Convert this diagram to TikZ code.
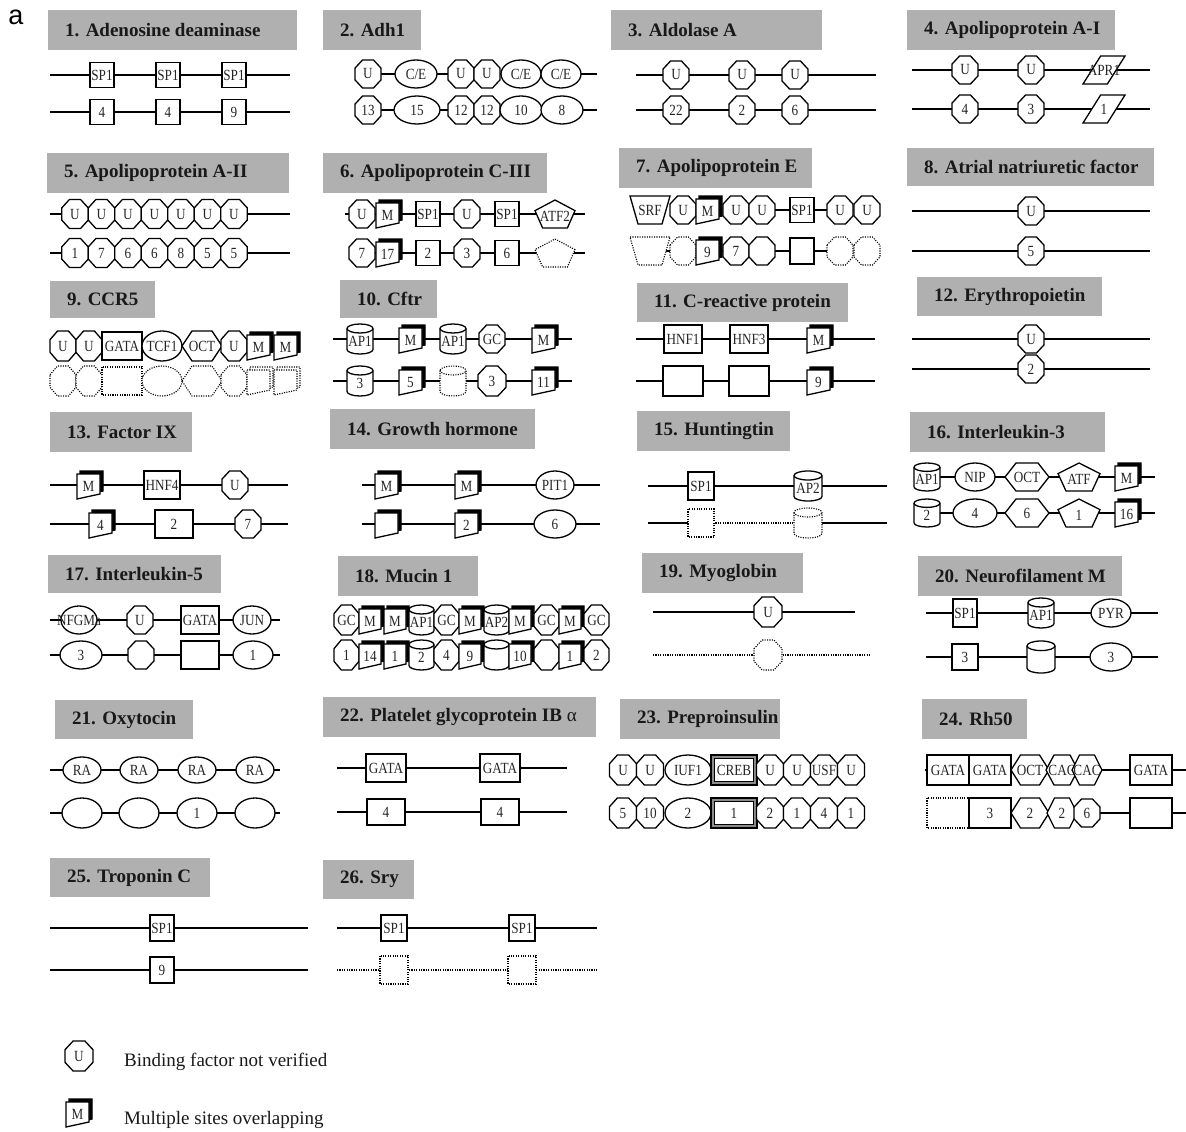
\documentclass[tikz,border=0pt]{standalone}
\usepackage{fontspec}
\setmainfont{Liberation Serif}
\newfontfamily\sansf{Liberation Sans}
\definecolor{titlegray}{RGB}{176,176,176}
\tikzset{
  shp/.style={draw=black, fill=white, line width=1.3, line join=miter},
  dna/.style={line width=1.4, draw=black},
  dot/.style={dash pattern=on 1.1pt off 1.3pt, line width=1.1},
  lbl/.style={inner sep=0, font=\fontsize{15.5}{15.5}\selectfont, text=black!85},
  ttl/.style={inner sep=0, anchor=west, font=\fontsize{19}{19}\selectfont\bfseries, text=black!90},
  legtext/.style={inner sep=0, anchor=west, font=\fontsize{19}{19}\selectfont, text=black!90}
}
\newcommand\lbltext[1]{\scalebox{0.85}[1]{#1}}
% octagon: [style]{name}{x}{y}{w}{h}{label}
\newcommand\sOct[7][]{%
  \pgfmathsetmacro\shW{#5/2}\pgfmathsetmacro\shH{#6/2}%
  \pgfmathsetmacro\shX{0.29*#5}\pgfmathsetmacro\shY{0.29*#6}%
  \begin{scope}[shift={(#3,#4)}]
    \draw[shp,#1] (-\shW,-\shH+\shY) -- (-\shW+\shX,-\shH) -- (\shW-\shX,-\shH) -- (\shW,-\shH+\shY)
      -- (\shW,\shH-\shY) -- (\shW-\shX,\shH) -- (-\shW+\shX,\shH) -- (-\shW,\shH-\shY) -- cycle;
  \end{scope}
  \node[lbl] (#2) at (#3,#4) {\lbltext{#7}};}
\newcommand\sRect[7][]{%
  \pgfmathsetmacro\shW{#5/2}\pgfmathsetmacro\shH{#6/2}%
  \draw[shp,#1] ({#3-\shW},{#4-\shH}) rectangle ({#3+\shW},{#4+\shH});
  \node[lbl] (#2) at (#3,#4) {\lbltext{#7}};}
\newcommand\sEll[7][]{%
  \pgfmathsetmacro\shW{#5/2}\pgfmathsetmacro\shH{#6/2}%
  \draw[shp,#1] (#3,#4) ellipse [x radius=\shW, y radius=\shH];
  \node[lbl] (#2) at (#3,#4) {\lbltext{#7}};}
\newcommand\sHex[7][]{%
  \pgfmathsetmacro\shW{#5/2}\pgfmathsetmacro\shH{#6/2}\pgfmathsetmacro\shX{0.25*#5}%
  \begin{scope}[shift={(#3,#4)}]
    \draw[shp,#1] (-\shW,0) -- (-\shW+\shX,-\shH) -- (\shW-\shX,-\shH) -- (\shW,0)
      -- (\shW-\shX,\shH) -- (-\shW+\shX,\shH) -- cycle;
  \end{scope}
  \node[lbl] (#2) at (#3,#4) {\lbltext{#7}};}
\newcommand\sPent[7][]{%
  \pgfmathsetmacro\shW{#5/2}\pgfmathsetmacro\shH{#6/2}%
  \pgfmathsetmacro\shX{0.31*#5}\pgfmathsetmacro\shY{0.38*#6}%
  \begin{scope}[shift={(#3,#4)}]
    \draw[shp,#1] (0,-\shH) -- (\shW,-\shH+\shY) -- (\shX,\shH) -- (-\shX,\shH) -- (-\shW,-\shH+\shY) -- cycle;
  \end{scope}
  \node[lbl] (#2) at (#3,{#4+2}) {\lbltext{#7}};}
\newcommand\sTrap[7][]{%
  \pgfmathsetmacro\shW{#5/2}\pgfmathsetmacro\shH{#6/2}\pgfmathsetmacro\shX{0.3*#5}%
  \begin{scope}[shift={(#3,#4)}]
    \draw[shp,#1] (-\shW,-\shH) -- (\shW,-\shH) -- (\shX,\shH) -- (-\shX,\shH) -- cycle;
  \end{scope}
  \node[lbl] (#2) at (#3,#4) {\lbltext{#7}};}
\newcommand\sPar[7][]{%
  \pgfmathsetmacro\shW{#5/2}\pgfmathsetmacro\shH{#6/2}\pgfmathsetmacro\shX{0.42*#5}%
  \begin{scope}[shift={(#3,#4)}]
    \draw[shp,#1] (-\shW+\shX,-\shH) -- (\shW,-\shH) -- (\shW-\shX,\shH) -- (-\shW,\shH) -- cycle;
  \end{scope}
  \node[lbl] (#2) at (#3,#4) {\lbltext{#7}};}
\newcommand\sCyl[7][]{%
  \pgfmathsetmacro\shW{#5/2}\pgfmathsetmacro\shH{#6/2}\pgfmathsetmacro\shY{0.15*#6}%
  \begin{scope}[shift={(#3,#4)}]
    \draw[shp,#1] (-\shW,-\shH+\shY) -- (-\shW,\shH-\shY)
      arc[start angle=180, end angle=0, x radius=\shW, y radius=\shY]
      -- (\shW,-\shH+\shY) arc[start angle=0, end angle=-180, x radius=\shW, y radius=\shY] -- cycle;
    \draw[shp,fill=none,#1] (-\shW,-\shH+\shY) arc[start angle=180, end angle=0, x radius=\shW, y radius=\shY];
  \end{scope}
  \node[lbl] (#2) at (#3,{#4+2}) {\lbltext{#7}};}
\newcommand\sMul[7][]{%
  \pgfmathsetmacro\shW{#5/2}\pgfmathsetmacro\shH{#6/2}%
  \begin{scope}[shift={(#3,#4)}]
    \draw[shp,fill=black,#1] (-\shW+3,-\shH) -- (\shW,-\shH) -- (\shW,\shH-8) -- (-\shW+3,\shH-3) -- cycle;
    \draw[shp,#1] (-\shW,-\shH+3) -- (\shW-3,-\shH+3) -- (\shW-3,\shH-5) -- (-\shW,\shH) -- cycle;
  \end{scope}
  \node[lbl] (#2) at ({#3-1.5},{#4+1.5}) {\lbltext{#7}};}
\newcommand\sCreb[7][]{%
  \pgfmathsetmacro\shW{#5/2}\pgfmathsetmacro\shH{#6/2}%
  \begin{scope}[shift={(#3,#4)}]
    \draw[shp,#1] (-\shW,-\shH) rectangle (\shW,\shH);
    \draw[line width=2.2,draw=black!45] (-\shW+2.2,-\shH+2.2) rectangle (\shW-2.2,\shH-2.2);
    \draw[line width=1] (-\shW+3.8,-\shH+3.8) rectangle (\shW-3.8,\shH-3.8);
  \end{scope}
  \node[lbl] (#2) at (#3,#4) {\lbltext{#7}};}
% DNA line: [style]{name}{x1}{x2}{y}
\newcommand\gLine[5][]{%
  \coordinate (#2s) at (#3,#5); \coordinate (#2e) at (#4,#5);
  \draw[dna,#1] (#2s) -- (#2e);}
% title: {name}{x1}{y1}{x2}{y2}{text}
\newcommand\gTitle[6]{%
  \fill[titlegray] (#2,#3) rectangle (#4,#5);
  \node[ttl] (#1) at ({#2+17},{(#3+#5)/2}) {#6};}
\begin{document}
\begin{tikzpicture}[x=1pt,y=-1pt]
\useasboundingbox (0,0) rectangle (1186,1132);
\fill[white] (0,0) rectangle (1186,1132);
\node[font=\sansf\fontsize{27}{27}\selectfont, inner sep=0] (lbla) at (16,17) {a};

% ---------- 1 ----------
\gTitle{t1}{48}{10}{297}{50}{1. Adenosine deaminase}
\gLine{l1a}{50}{290}{75}
\sRect{n1a1}{102}{75}{24}{25}{SP1}
\sRect{n1a2}{168}{75}{24}{25}{SP1}
\sRect{n1a3}{234}{75}{24}{25}{SP1}
\gLine{l1b}{50}{290}{112}
\sRect{n1b1}{102}{112}{24}{25}{4}
\sRect{n1b2}{168}{112}{24}{25}{4}
\sRect{n1b3}{234}{112}{24}{25}{9}

% ---------- 2 ----------
\gTitle{t2}{323}{10}{421}{50}{2. Adh1}
\gLine{l2a}{366}{597}{74}
\sOct{n2a1}{368}{74}{26}{28}{U}
\sEll{n2a2}{416}{74}{42}{28}{C/E}
\sOct{n2a3}{461}{74}{26}{28}{U}
\sOct{n2a4}{487}{74}{26}{28}{U}
\sEll{n2a5}{521}{74}{40}{28}{C/E}
\sEll{n2a6}{561}{74}{40}{28}{C/E}
\gLine{l2b}{366}{597}{110}
\sOct{n2b1}{368}{110}{26}{28}{13}
\sEll{n2b2}{417}{110}{46}{28}{15}
\sOct{n2b3}{461}{110}{26}{28}{12}
\sOct{n2b4}{487}{110}{26}{28}{12}
\sEll{n2b5}{521}{110}{42}{28}{10}
\sEll{n2b6}{562}{110}{42}{28}{8}

% ---------- 3 ----------
\gTitle{t3}{611}{10}{822}{50}{3. Aldolase A}
\gLine{l3a}{636}{876}{75}
\sOct{n3a1}{676}{75}{26}{28}{U}
\sOct{n3a2}{742}{75}{26}{28}{U}
\sOct{n3a3}{795}{75}{26}{28}{U}
\gLine{l3b}{636}{876}{110}
\sOct{n3b1}{676}{110}{26}{28}{22}
\sOct{n3b2}{742}{110}{26}{28}{2}
\sOct{n3b3}{795}{110}{26}{28}{6}

% ---------- 4 ----------
\gTitle{t4}{907}{10}{1115}{50}{4. Apolipoprotein A-I}
\gLine{l4a}{912}{1150}{70}
\sOct{n4a1}{965}{70}{26}{28}{U}
\sOct{n4a2}{1031}{70}{26}{28}{U}
\sPar{n4a3}{1104}{70}{42}{28}{APR1}
\gLine{l4b}{912}{1150}{109}
\sOct{n4b1}{965}{109}{26}{28}{4}
\sOct{n4b2}{1031}{109}{26}{28}{3}
\sPar{n4b3}{1104}{109}{42}{28}{1}

% ---------- 5 ----------
\gTitle{t5}{47}{153}{289}{193}{5. Apolipoprotein A-II}
\gLine{l5a}{50}{290}{214}
\sOct{n5a1}{75}{214}{26.5}{29}{U}
\sOct{n5a2}{101.5}{214}{26.5}{29}{U}
\sOct{n5a3}{128}{214}{26.5}{29}{U}
\sOct{n5a4}{154.5}{214}{26.5}{29}{U}
\sOct{n5a5}{181}{214}{26.5}{29}{U}
\sOct{n5a6}{207.5}{214}{26.5}{29}{U}
\sOct{n5a7}{234}{214}{26.5}{29}{U}
\gLine{l5b}{50}{290}{253}
\sOct{n5b1}{75}{253}{26.5}{29}{1}
\sOct{n5b2}{101.5}{253}{26.5}{29}{7}
\sOct{n5b3}{128}{253}{26.5}{29}{6}
\sOct{n5b4}{154.5}{253}{26.5}{29}{6}
\sOct{n5b5}{181}{253}{26.5}{29}{8}
\sOct{n5b6}{207.5}{253}{26.5}{29}{5}
\sOct{n5b7}{234}{253}{26.5}{29}{5}

% ---------- 6 ----------
\gTitle{t6}{323}{153}{547}{193}{6. Apolipoprotein C-III}
\gLine{l6a}{345}{585}{214}
\sOct{n6a1}{362}{214}{26}{28}{U}
\sMul{n6a2}{389}{214}{26}{28}{M}
\sRect{n6a3}{428}{214}{24}{25}{SP1}
\sOct{n6a4}{467}{214}{26}{28}{U}
\sRect{n6a5}{507}{214}{24}{25}{SP1}
\sPent{n6a6}{555}{214}{40}{28}{ATF2}
\gLine{l6b}{362}{585}{253}
\sOct{n6b1}{362}{253}{26}{28}{7}
\sMul{n6b2}{389}{253}{26}{28}{17}
\sRect{n6b3}{428}{253}{24}{25}{2}
\sOct{n6b4}{467}{253}{26}{28}{3}
\sRect{n6b5}{507}{253}{24}{25}{6}
\sPent[dot]{n6b6}{555}{253}{40}{28}{}

% ---------- 7 ----------
\gTitle{t7}{619}{148}{812}{188}{7. Apolipoprotein E}
\gLine{l7a}{762}{840}{210}
\sTrap{n7a1}{650}{210}{40}{28}{SRF}
\sOct{n7a2}{683}{210}{26}{28}{U}
\sMul{n7a3}{709}{210}{26}{28}{M}
\sOct{n7a4}{736}{210}{26}{28}{U}
\sOct{n7a5}{762}{210}{26}{28}{U}
\sRect{n7a6}{802}{210}{24}{25}{SP1}
\sOct{n7a7}{840}{210}{26}{28}{U}
\sOct{n7a8}{867}{210}{26}{28}{U}
\gLine{l7b}{650}{840}{251}
\sTrap[dot]{n7b1}{650}{251}{40}{28}{}
\sOct[dot]{n7b2}{683}{251}{26}{28}{}
\sMul{n7b3}{709}{251}{26}{28}{9}
\sOct{n7b4}{736}{251}{26}{28}{7}
\sOct{n7b5}{762}{251}{26}{28}{}
\sRect{n7b6}{802}{251}{24}{26}{}
\sOct[dot]{n7b7}{840}{251}{26}{28}{}
\sOct[dot]{n7b8}{867}{251}{26}{28}{}

% ---------- 8 ----------
\gTitle{t8}{907}{148}{1154}{186}{8. Atrial natriuretic factor}
\gLine{l8a}{912}{1150}{211}
\sOct{n8a1}{1031}{211}{26}{28}{U}
\gLine{l8b}{912}{1150}{251}
\sOct{n8b1}{1031}{251}{26}{28}{5}

% ---------- 9 ----------
\gTitle{t9}{50}{281}{155}{318}{9. CCR5}
\sOct{n9a1}{63}{346}{26}{30}{U}
\sOct{n9a2}{89}{346}{26}{30}{U}
\sRect{n9a3}{122}{346}{40}{28}{GATA}
\sEll{n9a4}{162}{346}{40}{30}{TCF1}
\sHex{n9a5}{202}{346}{40}{30}{OCT}
\sOct{n9a6}{234}{346}{26}{30}{U}
\sMul{n9a7}{260}{346}{26}{28}{M}
\sMul{n9a8}{287}{346}{26}{28}{M}
\sOct[dot]{n9b1}{63}{381}{26}{30}{}
\sOct[dot]{n9b2}{89}{381}{26}{30}{}
\sRect[dot]{n9b3}{122}{381}{40}{28}{}
\sEll[dot]{n9b4}{162}{381}{40}{30}{}
\sHex[dot]{n9b5}{202}{381}{40}{30}{}
\sOct[dot]{n9b6}{234}{381}{26}{30}{}
\sMul[dot,fill=white]{n9b7}{260}{381}{26}{28}{}
\sMul[dot,fill=white]{n9b8}{287}{381}{26}{28}{}

% ---------- 10 ----------
\gTitle{t10}{340}{280}{437}{318}{10. Cftr}
\gLine{l10a}{333}{572}{339}
\sCyl{n10a1}{360}{339}{26}{30}{AP1}
\sMul{n10a2}{412}{339}{26}{28}{M}
\sCyl{n10a3}{453}{339}{26}{30}{AP1}
\sOct{n10a4}{492}{339}{26}{28}{GC}
\sMul{n10a5}{545}{339}{26}{28}{M}
\gLine{l10b}{333}{572}{381}
\sCyl{n10b1}{360}{381}{26}{30}{3}
\sMul{n10b2}{412}{381}{26}{28}{5}
\sCyl[dot]{n10b3}{453}{381}{26}{30}{}
\sOct{n10b4}{492}{381}{28}{30}{3}
\sMul{n10b5}{545}{381}{26}{28}{11}

% ---------- 11 ----------
\gTitle{t11}{637}{283}{848}{322}{11. C-reactive protein}
\gLine{l11a}{636}{875}{339}
\sRect{n11a1}{683}{339}{38}{28}{HNF1}
\sRect{n11a2}{749}{339}{38}{28}{HNF3}
\sMul{n11a3}{820}{339}{26}{28}{M}
\gLine{l11b}{636}{875}{381}
\sRect{n11b1}{683}{381}{40}{30}{}
\sRect{n11b2}{749}{381}{40}{30}{}
\sMul{n11b3}{820}{381}{26}{28}{9}

% ---------- 12 ----------
\gTitle{t12}{917}{277}{1102}{316}{12. Erythropoietin}
\gLine{l12a}{912}{1150}{339}
\sOct{n12a1}{1031}{339}{26}{28}{U}
\gLine{l12b}{912}{1150}{369}
\sOct{n12b1}{1031}{369}{26}{28}{2}

% ---------- 13 ----------
\gTitle{t13}{50}{412}{192}{452}{13. Factor IX}
\gLine{l13a}{50}{288}{485}
\sMul{n13a1}{90}{485}{26}{28}{M}
\sRect{n13a2}{162}{485}{36}{28}{HNF4}
\sOct{n13a3}{235}{485}{26}{28}{U}
\gLine{l13b}{50}{288}{524}
\sMul{n13b1}{102}{524}{26}{28}{4}
\sRect{n13b2}{174}{524}{38}{28}{2}
\sOct{n13b3}{248}{524}{26}{28}{7}

% ---------- 14 ----------
\gTitle{t14}{330}{409}{535}{449}{14. Growth hormone}
\gLine{l14a}{362}{600}{485}
\sMul{n14a1}{388}{485}{26}{28}{M}
\sMul{n14a2}{468}{485}{26}{28}{M}
\sEll{n14a3}{555}{485}{38}{28}{PIT1}
\gLine{l14b}{362}{600}{524}
\sMul{n14b1}{388}{524}{26}{28}{}
\sMul{n14b2}{468}{524}{26}{28}{2}
\sEll{n14b3}{555}{524}{42}{28}{6}

% ---------- 15 ----------
\gTitle{t15}{637}{411}{790}{451}{15. Huntingtin}
\gLine{l15a}{648}{887}{486}
\sRect{n15a1}{701}{486}{26}{28}{SP1}
\sCyl{n15a2}{808}{486}{28}{30}{AP2}
\gLine{l15b}{648}{701}{523}
\gLine[dot]{l15c}{701}{808}{523}
\gLine{l15d}{808}{887}{523}
\sRect[dot]{n15b1}{701}{523}{26}{28}{}
\sCyl[dot]{n15b2}{808}{523}{28}{30}{}

% ---------- 16 ----------
\gTitle{t16}{910}{412}{1105}{452}{16. Interleukin-3}
\gLine{l16a}{927}{1155}{477}
\sCyl{n16a1}{927}{477}{26}{28}{AP1}
\sEll{n16a2}{975}{477}{40}{28}{NIP}
\sHex{n16a3}{1027}{477}{44}{28}{OCT}
\sPent{n16a4}{1079}{477}{42}{28}{ATF}
\sMul{n16a5}{1128}{477}{26}{28}{M}
\gLine{l16b}{927}{1155}{513}
\sCyl{n16b1}{927}{513}{26}{28}{2}
\sEll{n16b2}{975}{513}{44}{28}{4}
\sHex{n16b3}{1027}{513}{44}{28}{6}
\sPent{n16b4}{1079}{513}{42}{28}{1}
\sMul{n16b5}{1128}{513}{26}{28}{16}

% ---------- 17 ----------
\gTitle{t17}{48}{555}{221}{593}{17. Interleukin-5}
\gLine{l17a}{50}{280}{620}
\sEll{n17a1}{79}{620}{36}{28}{NFGMa}
\sOct{n17a2}{140}{620}{26}{28}{U}
\sRect{n17a3}{200}{620}{38}{28}{GATA}
\sEll{n17a4}{252}{620}{38}{28}{JUN}
\gLine{l17b}{50}{280}{655}
\sEll{n17b1}{81}{655}{42}{28}{3}
\sOct{n17b2}{141}{655}{26}{28}{}
\sRect{n17b3}{200}{655}{38}{28}{}
\sEll{n17b4}{253}{655}{40}{28}{1}

% ---------- 18 ----------
\gTitle{t18}{338}{556}{478}{596}{18. Mucin 1}
\sOct{n18a1}{346.5}{620}{25}{30}{GC}
\sMul{n18a2}{371.5}{620}{25}{28}{M}
\sMul{n18a3}{396.5}{620}{25}{28}{M}
\sCyl{n18a4}{421.5}{620}{25}{30}{AP1}
\sOct{n18a5}{446.5}{620}{25}{30}{GC}
\sMul{n18a6}{471.5}{620}{25}{28}{M}
\sCyl{n18a7}{496.5}{620}{25}{30}{AP2}
\sMul{n18a8}{521.5}{620}{25}{28}{M}
\sOct{n18a9}{546.5}{620}{25}{30}{GC}
\sMul{n18a10}{571.5}{620}{25}{28}{M}
\sOct{n18a11}{596.5}{620}{25}{30}{GC}
\sOct{n18b1}{346.5}{655}{25}{30}{1}
\sMul{n18b2}{371.5}{655}{25}{28}{14}
\sMul{n18b3}{396.5}{655}{25}{28}{1}
\sCyl{n18b4}{421.5}{655}{25}{30}{2}
\sOct{n18b5}{446.5}{655}{25}{30}{4}
\sMul{n18b6}{471.5}{655}{25}{28}{9}
\sCyl{n18b7}{496.5}{655}{25}{30}{}
\sMul{n18b8}{521.5}{655}{25}{28}{10}
\sOct{n18b9}{546.5}{655}{25}{30}{}
\sMul{n18b10}{571.5}{655}{25}{28}{1}
\sOct{n18b11}{596.5}{655}{25}{30}{2}

% ---------- 19 ----------
\gTitle{t19}{642}{553}{803}{593}{19. Myoglobin}
\gLine{l19a}{653}{855}{612}
\sOct{n19a1}{768}{612}{28}{30}{U}
\gLine[dot]{l19b}{653}{870}{655}
\sOct[dot]{n19b1}{768}{655}{28}{30}{}

% ---------- 20 ----------
\gTitle{t20}{918}{556}{1122}{596}{20. Neurofilament M}
\gLine{l20a}{926}{1158}{613}
\sRect{n20a1}{965}{613}{24}{28}{SP1}
\sCyl{n20a2}{1041}{613}{26}{30}{AP1}
\sEll{n20a3}{1111}{613}{40}{28}{PYR}
\gLine{l20b}{926}{1158}{657}
\sRect{n20b1}{965}{657}{26}{26}{3}
\sCyl{n20b2}{1041}{657}{28}{32}{}
\sEll{n20b3}{1111}{657}{42}{28}{3}

% ---------- 21 ----------
\gTitle{t21}{55}{700}{193}{739}{21. Oxytocin}
\gLine{l21a}{50}{280}{770}
\sEll{n21a1}{82}{770}{38}{26}{RA}
\sEll{n21a2}{139}{770}{38}{26}{RA}
\sEll{n21a3}{197}{770}{38}{26}{RA}
\sEll{n21a4}{255}{770}{38}{26}{RA}
\gLine{l21b}{50}{280}{813}
\sEll{n21b1}{82}{813}{40}{30}{}
\sEll{n21b2}{139}{813}{40}{30}{}
\sEll{n21b3}{197}{813}{40}{30}{1}
\sEll{n21b4}{255}{813}{40}{30}{}

% ---------- 22 ----------
\gTitle{t22}{323}{697}{596}{737}{22. Platelet glycoprotein IB \textmd{α}}
\gLine{l22a}{337}{567}{768}
\sRect{n22a1}{386}{768}{40}{28}{GATA}
\sRect{n22a2}{500}{768}{40}{28}{GATA}
\gLine{l22b}{337}{567}{812}
\sRect{n22b1}{386}{812}{38}{26}{4}
\sRect{n22b2}{500}{812}{38}{26}{4}

% ---------- 23 ----------
\gTitle{t23}{620}{699}{780}{739}{23. Preproinsulin}
\sOct{n23a1}{623}{770}{27}{30}{U}
\sOct{n23a2}{650}{770}{27}{30}{U}
\sEll{n23a3}{688}{770}{46}{30}{IUF1}
\sCreb{n23a4}{734}{770}{46}{30}{CREB}
\sOct{n23a5}{770}{770}{27}{30}{U}
\sOct{n23a6}{797}{770}{27}{30}{U}
\sOct{n23a7}{824}{770}{27}{30}{USF}
\sOct{n23a8}{851}{770}{27}{30}{U}
\sOct{n23b1}{623}{813}{27}{30}{5}
\sOct{n23b2}{650}{813}{27}{30}{10}
\sEll{n23b3}{688}{813}{46}{30}{2}
\sCreb{n23b4}{734}{813}{46}{30}{1}
\sOct{n23b5}{770}{813}{27}{30}{2}
\sOct{n23b6}{797}{813}{27}{30}{1}
\sOct{n23b7}{824}{813}{27}{30}{4}
\sOct{n23b8}{851}{813}{27}{30}{1}

% ---------- 24 ----------
\gTitle{t24}{922}{699}{1027}{739}{24. Rh50}
\gLine{l24a}{925}{1186}{770}
\sRect{n24a1}{948}{770}{42}{30}{GATA}
\sRect{n24a2}{990}{770}{42}{30}{GATA}
\sHex{n24a3}{1030}{770}{38}{30}{OCT}
\sHex{n24a4}{1062}{770}{32}{30}{CAC}
\sHex{n24a5}{1087}{770}{30}{30}{CAC}
\sRect{n24a6}{1151}{770}{42}{30}{GATA}
\gLine{l24b}{948}{1186}{813}
\sRect[dot]{n24b1}{948}{813}{42}{30}{}
\sRect{n24b2}{990}{813}{42}{30}{3}
\sHex{n24b3}{1030}{813}{38}{30}{2}
\sHex{n24b4}{1062}{813}{30}{30}{2}
\sOct{n24b5}{1087}{813}{26}{28}{6}
\sRect{n24b6}{1151}{813}{42}{30}{}

% ---------- 25 ----------
\gTitle{t25}{50}{858}{210}{897}{25. Troponin C}
\gLine{l25a}{50}{308}{928}
\sRect{n25a1}{162}{928}{24}{26}{SP1}
\gLine{l25b}{50}{308}{970}
\sRect{n25b1}{162}{970}{24}{26}{9}

% ---------- 26 ----------
\gTitle{t26}{323}{860}{414}{899}{26. Sry}
\gLine{l26a}{337}{597}{928}
\sRect{n26a1}{394}{928}{26}{26}{SP1}
\sRect{n26a2}{522}{928}{26}{26}{SP1}
\gLine[dot]{l26b}{337}{597}{970}
\sRect[dot]{n26b1}{394}{970}{28}{28}{}
\sRect[dot]{n26b2}{522}{970}{28}{28}{}

% ---------- legend ----------
\sOct{legU}{79}{1056}{28}{30}{U}
\node[legtext] (legUt) at (124,1062) {Binding factor not verified};
\sMul{legM}{79}{1113}{26}{28}{M}
\node[legtext] (legMt) at (124,1120) {Multiple sites overlapping};
\end{tikzpicture}
\end{document}
